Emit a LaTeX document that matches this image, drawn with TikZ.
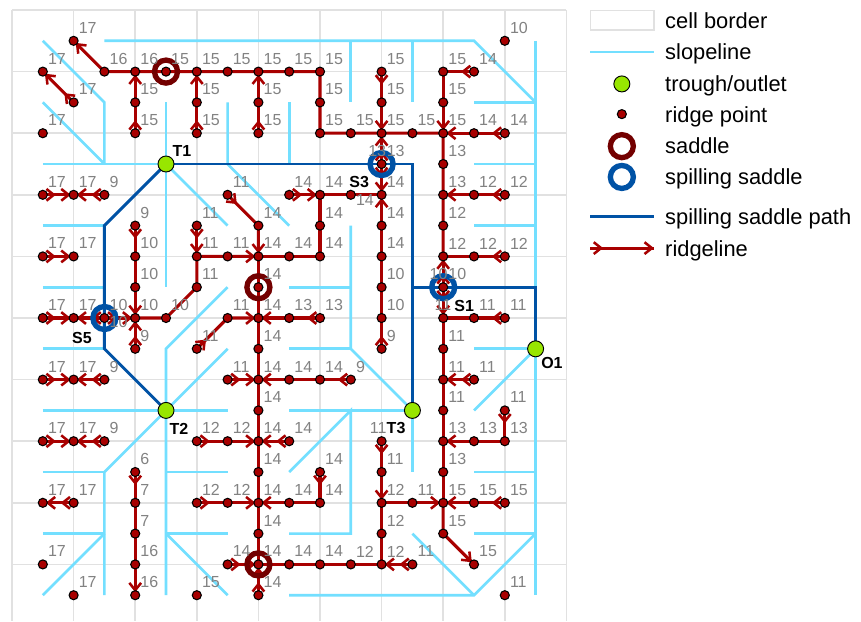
\documentclass[tikz,border=0pt]{standalone}
\usepackage{fontspec}
\setmainfont{Liberation Sans}
\usepackage{xcolor}
\usetikzlibrary{arrows.meta,decorations.markings}
\definecolor{cellgray}{HTML}{E1E1E1}
\definecolor{slopeblue}{HTML}{73DFFF}
\definecolor{spillblue}{HTML}{0052A5}
\definecolor{ridgered}{HTML}{A80000}
\definecolor{saddlered}{HTML}{730000}
\definecolor{troughgreen}{HTML}{98E600}
\definecolor{elevgray}{HTML}{828282}
\tikzset{
  cellborder/.style={draw=cellgray,line width=1.3pt},
  slopeline/.style={draw=slopeblue,line width=2pt},
  spillpath/.style={draw=spillblue,line width=2.2pt},
  ridgetip/.tip={Straight Barb[length=5.5pt,width=8.8pt,line width=1.9pt]},
  ridgeline/.style={draw=ridgered,color=ridgered,line width=2.3pt},
  headfirst/.style={postaction={decorate,decoration={markings,mark=at position 9.75pt with {\arrow{ridgetip}}}}},
  headlast/.style={postaction={decorate,decoration={markings,mark=at position -2.25pt with {\arrow{ridgetip}}}}},
  headboth/.style={headfirst,headlast},
  ridgepoint/.style={circle,draw=black,fill=ridgered,line width=0.8pt,inner sep=0pt,minimum size=6.8pt},
  trough/.style={circle,draw=black,fill=troughgreen,line width=0.7pt,inner sep=0pt,minimum size=12pt},
  saddle/.style={circle,draw=saddlered,line width=4pt,inner sep=0pt,minimum size=17.25pt},
  spillsaddle/.style={circle,draw=spillblue,line width=4pt,inner sep=0pt,minimum size=17.25pt},
  elevlabel/.style={font=\fontsize{12pt}{14pt}\selectfont,text=elevgray,anchor=west,inner sep=0pt},
  namelabel/.style={font=\fontsize{12pt}{14pt}\selectfont\bfseries,text=black,inner sep=0pt},
  legendtext/.style={font=\fontsize{16.4pt}{18pt}\selectfont,text=black,anchor=base west,inner sep=0pt}
}
\def\ridgepts{2/1/17,16/1/10,1/2/17,3/2/16,4/2/16,5/2/15,6/2/15,7/2/15,8/2/15,9/2/15,10/2/15,12/2/15,14/2/15,15/2/14,
  2/3/17,4/3/15,6/3/15,8/3/15,10/3/15,12/3/15,14/3/15,
  1/4/17,4/4/15,6/4/15,8/4/15,10/4/15,11/4/15,12/4/15,13/4/15,14/4/15,15/4/14,16/4/14,
  12/5/13,14/5/13,
  1/6/17,2/6/17,3/6/9,7/6/11,9/6/14,10/6/14,12/6/14,14/6/13,15/6/12,16/6/12,
  4/7/9,6/7/11,8/7/14,10/7/14,12/7/14,14/7/12,
  1/8/17,2/8/17,4/8/10,6/8/11,7/8/11,8/8/14,9/8/14,10/8/14,12/8/14,14/8/12,15/8/12,16/8/12,
  4/9/10,6/9/11,8/9/14,12/9/10,14/9/10,
  1/10/17,2/10/17,3/10/10,4/10/10,5/10/10,7/10/11,8/10/14,9/10/13,10/10/13,12/10/10,15/10/11,16/10/11,
  4/11/9,6/11/11,8/11/14,12/11/9,14/11/11,
  1/12/17,2/12/17,3/12/9,7/12/11,8/12/14,9/12/14,10/12/14,11/12/9,14/12/11,15/12/11,
  8/13/14,14/13/11,16/13/11,
  1/14/17,2/14/17,3/14/9,6/14/12,7/14/12,8/14/14,9/14/14,14/14/13,15/14/13,16/14/13,
  4/15/6,8/15/14,10/15/14,12/15/11,14/15/13,
  1/16/17,2/16/17,4/16/7,6/16/12,7/16/12,8/16/14,9/16/14,10/16/14,12/16/12,13/16/11,14/16/15,15/16/15,16/16/15,
  4/17/7,8/17/14,12/17/12,14/17/15,
  1/18/17,4/18/16,7/18/14,8/18/14,9/18/14,10/18/14,11/18/12,12/18/12,13/18/11,15/18/15,
  2/19/17,4/19/16,6/19/15,8/19/14,16/19/11}
\begin{document}
\begin{tikzpicture}[x=23.1pt,y=-23.1pt]
  \path[fill=white,use as bounding box] (-0.39,-0.325) rectangle (27.565,19.838);
  \foreach \i in {0,2,...,18} {
    \draw[cellborder] (\i,0) -- (\i,19.84);
  }
  \foreach \j in {0,2,...,18} {
    \draw[cellborder] (0,\j) -- (18,\j);
  }
  \draw[slopeline] (3,1) -- (15,1) -- (17,3);
  \draw[slopeline] (17,1) -- (17,19);
  \draw[slopeline] (11,1) -- (11,3);
  \draw[slopeline] (13,1) -- (13,3);
  \foreach \j in {3,5,7,11,15,17} {
    \draw[slopeline] (15,\j) -- (17,\j);
  }
  \draw[slopeline] (15,13) -- (17,11);
  \draw[slopeline] (9,19) -- (15,19) -- (17,17);
  \draw[slopeline] (13,17) -- (15,19);
  \draw[slopeline] (1,1) -- (3,3) -- (3,5);
  \draw[slopeline] (1,3) -- (3,5);
  \draw[slopeline] (1,5) -- (5,5);
  \draw[slopeline] (5,3) -- (5,9);
  \draw[slopeline] (5,5) -- (7,7);
  \draw[slopeline] (7,3) -- (7,5) -- (9,7);
  \draw[slopeline] (9,3) -- (9,5);
  \foreach \j in {7,9,11} {
    \draw[slopeline] (1,\j) -- (3,\j);
  }
  \draw[slopeline] (7,9) -- (5,11) -- (5,19);
  \draw[slopeline] (5,13) -- (7,11);
  \draw[slopeline] (1,13) -- (7,13);
  \draw[slopeline] (5,13) -- (3,15) -- (3,19);
  \draw[slopeline] (1,15) -- (3,15);
  \draw[slopeline] (1,17) -- (3,17);
  \draw[slopeline] (1,19) -- (3,17);
  \draw[slopeline] (5,15) -- (7,15);
  \draw[slopeline] (5,17) -- (7,17);
  \draw[slopeline] (5,17) -- (7,19);
  \draw[slopeline] (9,9) -- (11,9);
  \draw[slopeline] (11,7) -- (11,11) -- (13,13);
  \draw[slopeline] (9,11) -- (11,11);
  \draw[slopeline] (9,13) -- (13,13) -- (13,15);
  \draw[slopeline] (9,15) -- (11,13) -- (11,17) -- (9,17);
  \coordinate (t1) at (5,5);
  \coordinate (t2) at (5,13);
  \coordinate (t3) at (13,13);
  \coordinate (o1) at (17,11);
  \coordinate (bendA) at (3,7);
  \coordinate (bendB) at (3,11);
  \coordinate (bendC) at (13,5);
  \coordinate (bendD) at (13,9);
  \coordinate (bendE) at (17,9);
  \draw[spillpath] (t1) -- (bendA) -- (bendB) -- (t2);
  \draw[spillpath] (t1) -- (bendC) -- (t3);
  \draw[spillpath] (bendD) -- (bendE) -- (o1);
  \foreach \i/\j/\h in \ridgepts {
    \coordinate (p\i-\j) at (\i,\j);
  }
  \coordinate (p11-6) at (11,6);
  \coordinate (p12-14) at (12,14);
  \coordinate (p14-10) at (14,10);
  \draw[ridgeline,headlast] (p14-8) -- (p14-7) -- (p14-6) -- (p14-5) -- (p14-4) -- (p13-4) -- (p12-4) -- (p11-4) -- (p10-4) -- (p10-3) -- (p10-2) -- (p9-2) -- (p8-2) -- (p7-2) -- (p6-2) -- (p5-2) -- (p4-2) -- (p3-2) -- (p2-1);
  \draw[ridgeline,headboth] (p2-3) -- (p1-2);
  \draw[ridgeline,headboth] (p4-4) -- (p4-3) -- (p4-2);
  \draw[ridgeline,headboth] (p6-4) -- (p6-3) -- (p6-2);
  \draw[ridgeline,headboth] (p8-4) -- (p8-3) -- (p8-2);
  \draw[ridgeline,headboth] (p12-2) -- (p12-3) -- (p12-4);
  \draw[ridgeline,headboth] (p15-2) -- (p14-2) -- (p14-3) -- (p14-4);
  \draw[ridgeline,headboth] (p16-4) -- (p15-4) -- (p14-4);
  \draw[ridgeline,headboth] (p16-6) -- (p15-6) -- (p14-6);
  \draw[ridgeline,headboth] (p12-5) -- (p12-4);
  \draw[ridgeline,headboth] (p12-5) -- (p12-6);
  \draw[ridgeline,headboth] (p12-11) -- (p12-10) -- (p12-9) -- (p12-8) -- (p12-7) -- (p12-6);
  \draw[ridgeline,headboth] (p14-9) -- (p14-8);
  \draw[ridgeline,headboth] (p14-9) -- (p14-10);
  \draw[ridgeline,headfirst] (p16-8) -- (p15-8) -- (p14-8);
  \draw[ridgeline,headfirst] (p16-10) -- (p15-10) -- (p14-10);
  \draw[ridgeline] (p14-10) -- (p14-11) -- (p14-12) -- (p14-13) -- (p14-14) -- (p14-15) -- (p14-16);
  \draw[ridgeline,headboth] (p15-12) -- (p14-12);
  \draw[ridgeline,headboth] (p16-13) -- (p16-14) -- (p15-14) -- (p14-14);
  \draw[ridgeline,headboth] (p16-16) -- (p15-16) -- (p14-16);
  \draw[ridgeline,headlast] (p14-16) -- (p14-17) -- (p15-18);
  \draw[ridgeline,headboth] (p12-14) -- (p12-15) -- (p12-16);
  \draw[ridgeline,headboth] (p13-18) -- (p12-18);
  \draw[ridgeline,headlast] (p8-18) -- (p9-18) -- (p10-18) -- (p11-18) -- (p12-18) -- (p12-17) -- (p12-16) -- (p13-16) -- (p14-16);
  \draw[ridgeline] (p8-8) -- (p8-9) -- (p8-10) -- (p8-11) -- (p8-12) -- (p8-13) -- (p8-14) -- (p8-15) -- (p8-16) -- (p8-17) -- (p8-18);
  \draw[ridgeline] (p12-6) -- (p11-6) -- (p10-6) -- (p10-7) -- (p10-8) -- (p9-8) -- (p8-8);
  \draw[ridgeline,headboth] (p9-6) -- (p10-6);
  \draw[ridgeline,headboth] (p7-6) -- (p8-7) -- (p8-8);
  \draw[ridgeline,headboth] (p6-7) -- (p6-8);
  \draw[ridgeline,headlast] (p4-10) -- (p5-10) -- (p6-9) -- (p6-8) -- (p7-8) -- (p8-8);
  \draw[ridgeline,headboth] (p10-10) -- (p9-10) -- (p8-10);
  \draw[ridgeline,headboth] (p6-11) -- (p7-10) -- (p8-10);
  \draw[ridgeline,headboth] (p7-12) -- (p8-12);
  \draw[ridgeline,headboth] (p11-12) -- (p10-12) -- (p9-12) -- (p8-12);
  \draw[ridgeline,headboth] (p6-14) -- (p7-14) -- (p8-14);
  \draw[ridgeline,headboth] (p9-14) -- (p8-14);
  \draw[ridgeline,headboth] (p6-16) -- (p7-16) -- (p8-16);
  \draw[ridgeline,headboth] (p10-15) -- (p10-16) -- (p9-16) -- (p8-16);
  \draw[ridgeline,headboth] (p7-18) -- (p8-18);
  \draw[ridgeline,headboth] (p8-19) -- (p8-18);
  \draw[ridgeline,headboth] (p4-7) -- (p4-8) -- (p4-9) -- (p4-10);
  \draw[ridgeline,headboth] (p4-11) -- (p4-10);
  \draw[ridgeline,headboth] (p3-10) -- (p4-10);
  \draw[ridgeline,headboth] (p3-10) -- (p2-10);
  \draw[ridgeline,headboth] (p1-10) -- (p2-10);
  \draw[ridgeline,headboth] (p1-6) -- (p2-6);
  \draw[ridgeline,headboth] (p3-6) -- (p2-6);
  \draw[ridgeline,headboth] (p1-8) -- (p2-8);
  \draw[ridgeline,headboth] (p1-12) -- (p2-12);
  \draw[ridgeline,headboth] (p3-12) -- (p2-12);
  \draw[ridgeline,headboth] (p1-14) -- (p2-14);
  \draw[ridgeline,headboth] (p3-14) -- (p2-14);
  \draw[ridgeline,headboth] (p2-16) -- (p1-16);
  \draw[ridgeline,headboth] (p4-15) -- (p4-16) -- (p4-17) -- (p4-18) -- (p4-19);
  \foreach \i/\j/\h in \ridgepts {
    \node[ridgepoint] (rp\i-\j) at (p\i-\j) {};
  }
  \node[ridgepoint] (rp11-6) at (p11-6) {};
  \node[ridgepoint] (rp12-14) at (p12-14) {};
  \node[ridgepoint] (rp14-10) at (p14-10) {};
  \node[trough] (nt1) at (t1) {};
  \node[trough] (nt2) at (t2) {};
  \node[trough] (nt3) at (t3) {};
  \node[trough] (no1) at (o1) {};
  \node[saddle] (sd1) at (p5-2) {};
  \node[saddle] (sd2) at (p8-9) {};
  \node[saddle] (sd3) at (p8-18) {};
  \node[spillsaddle] (sS3) at (p12-5) {};
  \node[spillsaddle] (sS5) at (p3-10) {};
  \node[spillsaddle] (sS1) at (p14-9) {};
  \foreach \i/\j/\h in \ridgepts {
    \node[elevlabel] (lb\i-\j) at (\i+0.16,\j-0.42) {\h};
  }
  \node[elevlabel] (lbS3) at (11.56,4.58) {13};
  \node[elevlabel] (lbS1) at (13.55,8.58) {10};
  \node[elevlabel] (lbS5) at (3.16,10.13) {10};
  \node[elevlabel] (lb11-6) at (11.16,6.17) {14};
  \node[elevlabel] (lb12-14) at (11.61,13.58) {11};
  \node[elevlabel] (lb14-10) at (13.71,9.58) {11};
  \node[namelabel] (nmT1) at (5.52,4.58) {T1};
  \node[namelabel] (nmT2) at (5.42,13.6) {T2};
  \node[namelabel] (nmT3) at (12.47,13.57) {T3};
  \node[namelabel] (nmO1) at (17.53,11.46) {O1};
  \node[namelabel] (nmS3) at (11.27,5.58) {S3};
  \node[namelabel] (nmS5) at (2.27,10.65) {S5};
  \node[namelabel] (nmS1) at (14.68,9.61) {S1};
  \foreach \n/\y/\t in {a/0.594/cell border,b/1.62/slopeline,c/2.65/{trough/outlet},d/3.66/ridge point,e/4.65/saddle,f/5.66/spilling saddle,g/6.96/spilling saddle path,h/7.99/ridgeline} {
    \node[legendtext] (lg\n) at (21.2,\y) {\t};
  }
  \draw[cellborder,line width=1pt] (18.78,0.02) rectangle (20.84,0.65);
  \coordinate (slA) at (18.77,1.36);
  \coordinate (slB) at (20.84,1.36);
  \draw[slopeline] (slA) -- (slB);
  \node[trough] (kytrough) at (19.8,2.4) {};
  \node[ridgepoint] (kypoint) at (19.8,3.38) {};
  \node[saddle] (kysaddle) at (19.8,4.42) {};
  \node[spillsaddle] (kyspill) at (19.8,5.42) {};
  \coordinate (spA) at (18.77,6.69);
  \coordinate (spB) at (20.84,6.69);
  \draw[spillpath] (spA) -- (spB);
  \coordinate (rdA) at (18.77,7.73);
  \coordinate (rdB) at (20.84,7.73);
  \draw[ridgeline,headfirst,postaction={decorate,decoration={markings,mark=at position 1 with {\arrow{ridgetip}}}}] (rdA) -- (rdB);
\end{tikzpicture}
\end{document}
